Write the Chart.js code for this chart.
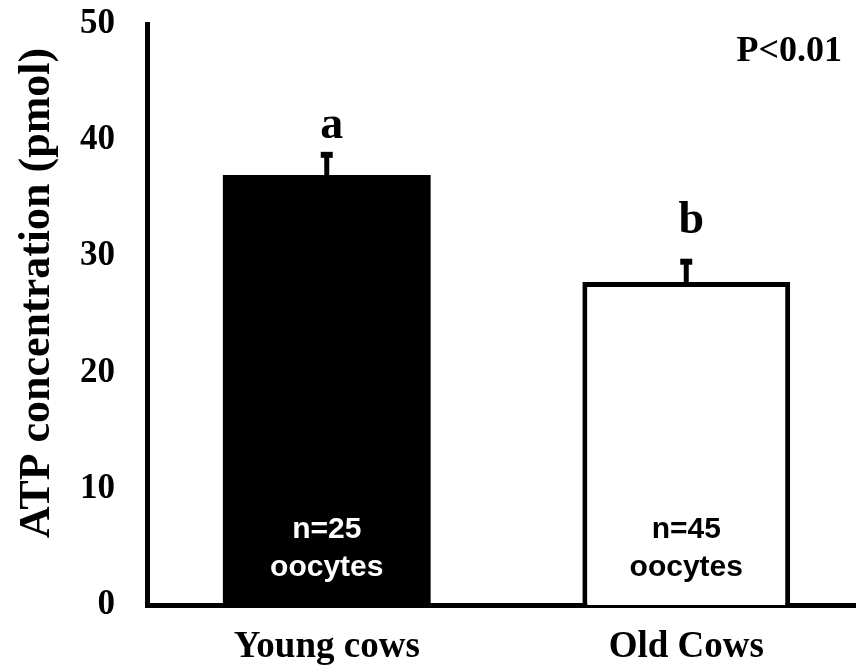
<!DOCTYPE html>
<html>
<head>
<meta charset="utf-8">
<script src="https://cdn.jsdelivr.net/npm/chart.js@4.4.0/dist/chart.umd.min.js"></script>
<style>
html, body { margin: 0; padding: 0; background: #fff; }
#wrap { width: 856px; height: 668px; overflow: hidden; }
</style>
</head>
<body>
<div id="wrap"><canvas id="atpChart" width="866" height="668"></canvas></div>
<script>
// chart data
const groups = ['Young cows', 'Old Cows'];
const atpMean = [37.0, 27.8];
const atpError = [2.0, 2.0];
const sigLetters = ['a', 'b'];
const sampleLabels = [['n=25', 'oocytes'], ['n=45', 'oocytes']];
const yTicks = [0, 10, 20, 30, 40, 50];
const pValueText = 'P<0.01';
const yTitle = 'ATP concentration (pmol)';

const SERIF = "'Liberation Serif', 'Times New Roman', serif";
const SANS = "'Liberation Sans', Arial, sans-serif";
const letterGap = [14, 26]; // px between cap and letter baseline

/**
 * Error bars (upper only), letters, sample sizes and the p value
 */
const annotations = {
    id: 'annotations',
    afterDatasetsDraw(chart) {
        const ctx = chart.ctx;
        const yScale = chart.scales.y;
        const meta = chart.getDatasetMeta(0);

        ctx.save();
        meta.data.forEach((bar, i) => {
            const top = yScale.getPixelForValue(atpMean[i] + atpError[i]);

            // error bar
            ctx.strokeStyle = '#000';
            ctx.lineWidth = 5;
            ctx.beginPath();
            ctx.moveTo(bar.x, bar.y);
            ctx.lineTo(bar.x, top + 3);
            ctx.stroke();
            ctx.lineWidth = 6;
            ctx.beginPath();
            ctx.moveTo(bar.x - 6, top + 3);
            ctx.lineTo(bar.x + 6, top + 3);
            ctx.stroke();

            // significance letter
            ctx.fillStyle = '#000';
            ctx.font = 'bold 46px ' + SERIF;
            ctx.textAlign = 'center';
            ctx.textBaseline = 'alphabetic';
            ctx.fillText(sigLetters[i], bar.x + 5, top - letterGap[i]);

            // n = ... oocytes
            ctx.fillStyle = i === 0 ? '#fff' : '#000';
            ctx.font = 'bold 30px ' + SANS;
            ctx.textBaseline = 'middle';
            ctx.fillText(sampleLabels[i][0], bar.x, bar.base - 75);
            ctx.fillText(sampleLabels[i][1], bar.x, bar.base - 37);
        });

        // p value
        ctx.fillStyle = '#000';
        ctx.font = 'bold 36px ' + SERIF;
        ctx.textAlign = 'right';
        ctx.textBaseline = 'middle';
        ctx.fillText(pValueText, 842, 52);

        // y axis title
        ctx.translate(38, 293);
        ctx.rotate(-Math.PI / 2);
        ctx.font = 'bold 44px ' + SERIF;
        ctx.textAlign = 'center';
        ctx.fillText(yTitle, 0, 0);
        ctx.restore();
    }
};

new Chart(document.getElementById('atpChart'), {
    type: 'bar',
    data: {
        labels: groups,
        datasets: [{
            data: atpMean,
            backgroundColor: ['#000000', '#ffffff'],
            borderColor: '#000000',
            borderWidth: [0, 5],
            barPercentage: 0.578,
            categoryPercentage: 1
        }]
    },
    options: {
        responsive: false,
        animation: false,
        layout: { padding: { top: 24, right: 0, bottom: 0, left: 0 } },
        plugins: {
            legend: { display: false },
            tooltip: { enabled: false }
        },
        scales: {
            x: {
                grid: { display: false, drawTicks: false },
                border: { display: true, color: '#000', width: 5 },
                ticks: {
                    color: '#000',
                    padding: 20,
                    font: { family: SERIF, size: 37, weight: 'bold' }
                },
                afterFit: (scale) => { scale.height = 63; }
            },
            y: {
                min: yTicks[0],
                max: yTicks[yTicks.length - 1],
                grid: { display: false, drawTicks: false },
                border: { display: true, color: '#000', width: 5 },
                ticks: {
                    stepSize: 10,
                    color: '#000',
                    padding: 32,
                    font: { family: SERIF, size: 35, weight: 'bold' },
                    callback: (v) => yTicks.includes(v) ? v : ''
                },
                afterFit: (scale) => {
                    scale.width = 147;
                    scale.paddingTop = 0;
                    scale.paddingBottom = 0;
                }
            }
        }
    },
    plugins: [annotations]
});
</script>
</body>
</html>
